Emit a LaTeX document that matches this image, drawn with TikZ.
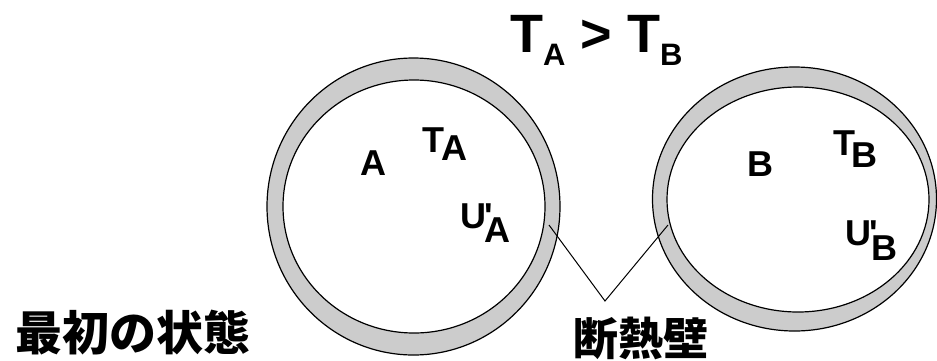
\documentclass[tikz,border=0pt]{standalone}
\usepackage{fontspec}
\setmainfont{Liberation Sans}
\newfontfamily\jpfont{Noto Sans CJK JP}
\usetikzlibrary{shapes.geometric}
\definecolor{ringgray}{gray}{0.8}
\tikzstyle{ring} = [ellipse, draw=black, line width=1.2pt, fill=ringgray, inner sep=0pt]
\tikzstyle{hollow} = [ellipse, draw=black, line width=1.2pt, fill=white, inner sep=0pt]
\tikzstyle{sym} = [anchor=base west, inner sep=0pt, font=\fontsize{36}{36}\selectfont\bfseries]
\tikzstyle{title} = [anchor=base west, inner sep=0pt, font=\fontsize{47}{47}\selectfont\jpfont\bfseries]
\tikzstyle{line} = [draw, line width=1pt]
\newcommand{\dropsub}[2]{\raisebox{-#1}{#2}}

\begin{document}
\begin{tikzpicture}[x=1pt, y=-1pt]
    \useasboundingbox (0,0) rectangle (937,360);
    % Containers
    \node [ring, minimum width=293pt, minimum height=297pt] (wallA) at (413.5,206.5) {};
    \node [hollow, minimum width=262pt, minimum height=253pt] (gasA) at (414,206.5) {};
    \node [ring, minimum width=284pt, minimum height=264pt] (wallB) at (794.5,199) {};
    \node [hollow, minimum width=262pt, minimum height=225pt] (gasB) at (798,199.5) {};

    % Labels
    \node [anchor=base west, inner sep=0pt, font=\fontsize{54}{54}\selectfont\bfseries] (relation) at (510,52)
        {T\dropsub{13pt}{\fontsize{31}{31}\selectfont A} > T\dropsub{13pt}{\fontsize{31}{31}\selectfont B}};
    \node [sym] (nameA) at (360,175) {A};
    \node [sym] (tempA) at (422,152) {T\kern-3pt\dropsub{8pt}{A}};
    \node [sym] (energyA) at (460,228) {U\kern-2pt\textquotesingle\kern-8pt\dropsub{14pt}{A}};
    \node [sym] (nameB) at (747,176) {B};
    \node [sym] (tempB) at (833,155) {T\kern-4pt\dropsub{12pt}{B}};
    \node [sym] (energyB) at (845,245) {U\kern-2pt\textquotesingle\kern-6pt\dropsub{15pt}{B}};
    \node [title] (state) at (15,350) {最初の状態};
    \node [title, font=\fontsize{45}{45}\selectfont\jpfont\bfseries] (adiabatic) at (573,355) {断熱壁};

    % Leader lines
    \coordinate (tipA) at (549,225);
    \coordinate (tipB) at (668,225);
    \coordinate (apex) at (605,301);
    \path [line] (tipA) -- (apex) -- (tipB);
\end{tikzpicture}
\end{document}
